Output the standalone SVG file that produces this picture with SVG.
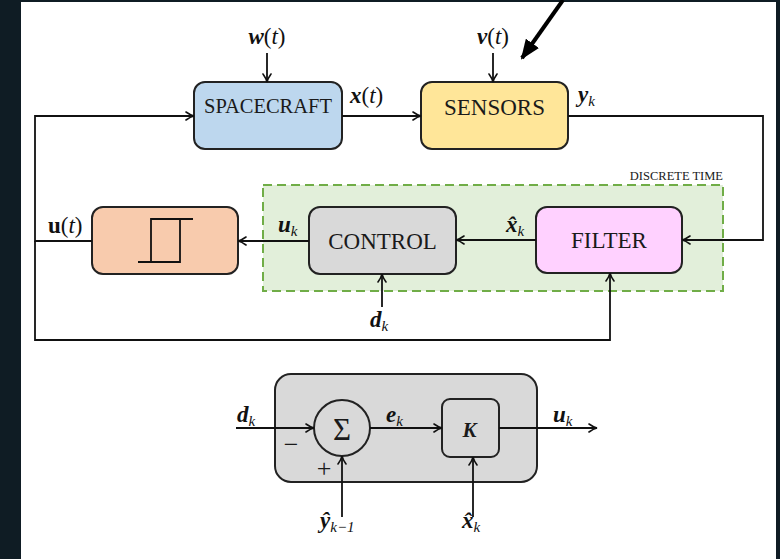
<svg xmlns="http://www.w3.org/2000/svg" width="780" height="559" viewBox="0 0 780 559">
<defs>
<marker id="arr" markerUnits="userSpaceOnUse" viewBox="0 0 10 10" markerWidth="10" markerHeight="10" refX="9.5" refY="5" orient="auto">
<path d="M1.5,1 Q6,4.2 9.5,5 Q6,5.8 1.5,9" fill="none" stroke="#111" stroke-width="1.6" stroke-linecap="round"/>
</marker>
<marker id="big" markerUnits="userSpaceOnUse" viewBox="0 0 20 16" markerWidth="20" markerHeight="16" refX="18" refY="8" orient="auto">
<path d="M0,0 L20,8 L0,16 Z" fill="#000"/>
</marker>
</defs>
<style>
.box{stroke:#222;stroke-width:2}
.ln{fill:none;stroke:#111;stroke-width:1.8}
.t{font-family:"Liberation Serif","DejaVu Serif",serif;fill:#1a1a1a}
.m{font-family:"Liberation Serif","DejaVu Serif",serif;font-size:23px;fill:#111}
.bi{font-style:italic;font-weight:bold}
.it{font-style:italic}
.sub{font-size:15px;font-style:italic;font-weight:normal}
</style>
<rect x="0" y="0" width="780" height="559" fill="#0f1c24"/>
<rect x="21" y="2" width="755" height="557" fill="#ffffff"/>

<g id="discrete-time">
<rect x="263" y="185" width="460" height="106" fill="#e2efda" stroke="#70ad47" stroke-width="2" stroke-dasharray="9,5"/>
<text class="t" x="723" y="180" font-size="12.5" text-anchor="end" fill="#404040">DISCRETE TIME</text>
</g>

<g id="spacecraft">
<rect class="box" x="194" y="82" width="148" height="67" rx="11" fill="#bdd7ee"/>
<text class="t" x="268" y="113" font-size="20.5" text-anchor="middle">SPACECRAFT</text>
</g>
<g id="sensors">
<rect class="box" x="421" y="82" width="147" height="67" rx="11" fill="#ffe699"/>
<text class="t" x="494.5" y="114.5" font-size="23" text-anchor="middle">SENSORS</text>
</g>
<g id="actuator">
<rect class="box" x="92" y="207" width="146" height="67" rx="11" fill="#f8cbad"/>
<path d="M138,262 H180 V219 M151,262 V219 H193" fill="none" stroke="#111" stroke-width="1.8"/>
</g>
<g id="control">
<rect class="box" x="309" y="207" width="147" height="67" rx="11" fill="#d9d9d9"/>
<text class="t" x="382.5" y="248.5" font-size="23" text-anchor="middle">CONTROL</text>
</g>
<g id="filter">
<rect class="box" x="536" y="207" width="146" height="66" rx="11" fill="#ffd1ff"/>
<text class="t" x="609" y="247.5" font-size="23" text-anchor="middle">FILTER</text>
</g>

<g id="control-detail">
<rect class="box" x="275" y="374" width="262" height="108" rx="16" fill="#d9d9d9"/>
</g>
<g id="sum">
<circle class="box" cx="342" cy="428" r="28" fill="#d9d9d9"/>
<text class="t" x="342" y="440" font-size="31" text-anchor="middle">Σ</text>
</g>
<g id="gain">
<rect class="box" x="442" y="399" width="57" height="58" rx="8" fill="#d9d9d9"/>
<text class="t bi" x="469.5" y="436.5" font-size="21" text-anchor="middle">K</text>
</g>

<g id="connectors">
<path class="ln" d="M267,53 V82" marker-end="url(#arr)"/>
<path class="ln" d="M493,53 V82" marker-end="url(#arr)"/>
<path class="ln" d="M342,116 H421" marker-end="url(#arr)"/>
<path class="ln" d="M568,116 H763 V240 H682" marker-end="url(#arr)"/>
<path class="ln" d="M92,241 H35 V116 H194" marker-end="url(#arr)"/>
<path class="ln" d="M35,241 V340 H610 V273" marker-end="url(#arr)"/>
<path class="ln" d="M309,241 H238" marker-end="url(#arr)"/>
<path class="ln" d="M536,240 H456" marker-end="url(#arr)"/>
<path class="ln" d="M382,307 V274" marker-end="url(#arr)"/>
<path class="ln" d="M236,428 H314" marker-end="url(#arr)"/>
<path class="ln" d="M370,428 H442" marker-end="url(#arr)"/>
<path class="ln" d="M499,428 H597" marker-end="url(#arr)"/>
<path class="ln" d="M342,517 V456" marker-end="url(#arr)"/>
<path class="ln" d="M473,517 V457" marker-end="url(#arr)"/>
<path d="M563,0 L522,58" stroke="#000" stroke-width="4" fill="none" marker-end="url(#big)"/>
</g>

<g id="labels">
<text class="m" x="267" y="44" text-anchor="middle"><tspan class="bi">w</tspan>(<tspan class="it">t</tspan>)</text>
<text class="m" x="493" y="44" text-anchor="middle"><tspan class="bi">v</tspan>(<tspan class="it">t</tspan>)</text>
<text class="m" x="350" y="103"><tspan class="bi">x</tspan>(<tspan class="it">t</tspan>)</text>
<text class="m" x="578" y="102"><tspan class="bi">y</tspan><tspan class="sub" dy="4">k</tspan></text>
<text class="m" x="48" y="233"><tspan font-weight="bold">u</tspan>(<tspan class="it">t</tspan>)</text>
<text class="m" x="278" y="232"><tspan class="bi">u</tspan><tspan class="sub" dy="4">k</tspan></text>
<text class="m" x="506" y="232"><tspan class="bi">x̂</tspan><tspan class="sub" dy="4">k</tspan></text>
<text class="m" x="370" y="327"><tspan class="bi">d</tspan><tspan class="sub" dy="4">k</tspan></text>
<text class="m" x="237" y="422"><tspan class="bi">d</tspan><tspan class="sub" dy="4">k</tspan></text>
<text class="m" x="386" y="422"><tspan class="bi">e</tspan><tspan class="sub" dy="4">k</tspan></text>
<text class="m" x="553" y="422"><tspan class="bi">u</tspan><tspan class="sub" dy="4">k</tspan></text>
<text class="t" x="291" y="453" font-size="26" text-anchor="middle">−</text>
<text class="t" x="324" y="477" font-size="26" text-anchor="middle">+</text>
<text class="m" x="320" y="528"><tspan class="bi">ŷ</tspan><tspan class="sub" dy="4">k−1</tspan></text>
<text class="m" x="462" y="528"><tspan class="bi">x̂</tspan><tspan class="sub" dy="4">k</tspan></text>
</g>
</svg>
